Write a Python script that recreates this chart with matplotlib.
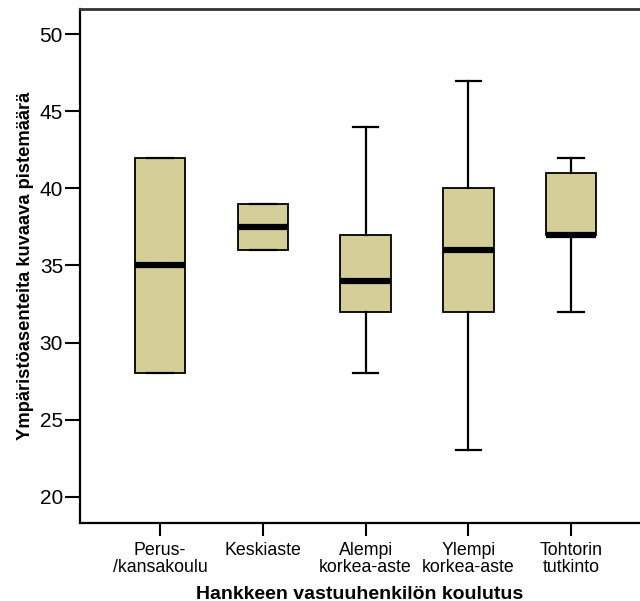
import matplotlib
matplotlib.use("Agg")
import matplotlib.pyplot as plt

plt.rcParams['font.family'] = ['Liberation Sans', 'DejaVu Sans']

# koulutustasot ja laatikkokuvion tunnusluvut
categories = ["Perus-\n/kansakoulu", "Keskiaste", "Alempi\nkorkea-aste",
              "Ylempi\nkorkea-aste", "Tohtorin\ntutkinto"]
whisker_low = [28, 36, 28, 23, 32]
q1 = [28, 36, 32, 32, 37]
median = [35, 37.5, 34, 36, 37]
q3 = [42, 39, 37, 40, 41]
whisker_high = [42, 39, 44, 47, 42]
y_ticks = [20, 25, 30, 35, 40, 45, 50]

stats = []
for i in range(len(categories)):
    stats.append({
        'whislo': whisker_low[i], 'q1': q1[i], 'med': median[i],
        'q3': q3[i], 'whishi': whisker_high[i], 'fliers': [],
    })

fig = plt.figure(figsize=(6.4, 6.01), dpi=100)
ax = fig.add_axes([0.1245, 0.1298, 0.8755, 0.8552])

positions = list(range(1, len(categories) + 1))
ax.bxp(stats, positions=positions, widths=0.49, patch_artist=True,
       showfliers=False,
       boxprops=dict(facecolor='#d4cf99', edgecolor='black', linewidth=1.3),
       medianprops=dict(color='black', linewidth=4.5, solid_capstyle='butt'),
       whiskerprops=dict(color='black', linewidth=1.6),
       capprops=dict(color='black', linewidth=1.6),
       capwidths=0.25)

ax.set_xlim(0.218, 5.67)
ax.set_ylim(18.29, 51.64)
ax.set_yticks(y_ticks)
ax.set_xticks(positions)
ax.set_xticklabels(categories, fontsize=12.8, linespacing=0.95)
ax.tick_params(axis='y', labelsize=15, length=11, width=1.5, pad=1)
ax.tick_params(axis='x', length=9, width=1.5, pad=5)

for side in ['left', 'bottom']:
    ax.spines[side].set_linewidth(1.6)
ax.spines['top'].set_linewidth(2.0)
ax.spines['top'].set_color('#333333')
ax.spines['right'].set_visible(False)

ax.set_ylabel("Ympäristöasenteita kuvaava pistemäärä", fontsize=13.2,
              fontweight='bold', labelpad=4)
ax.set_xlabel("Hankkeen vastuuhenkilön koulutus", fontsize=14,
              fontweight='bold', labelpad=7)

fig.savefig("out.png", dpi=100)
